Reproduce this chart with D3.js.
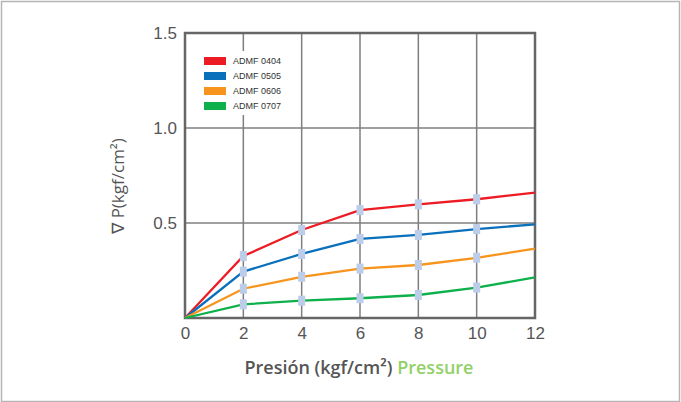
<!DOCTYPE html>
<html lang="en">
<head>
<meta charset="UTF-8">
<title>Pressure drop</title>
<script src="https://d3js.org/d3.v7.min.js"></script>
<style>
  body { margin: 0; background: #fff; }
  svg { display: block; font-family: "Open Sans", Roboto, sans-serif; }
  .tick text { fill: #555; font-size: 17px; }
</style>
</head>
<body>
<svg id="chart"></svg>
<script>
// pressure points (kgf/cm2)
var pressure = [0, 2, 4, 6, 8, 10, 12];
var yTicks = [0.5, 1.0, 1.5];

// pressure drop per model
var admf0404 = [0, 0.326, 0.463, 0.568, 0.598, 0.625, 0.660];
var admf0505 = [0, 0.244, 0.337, 0.416, 0.437, 0.468, 0.493];
var admf0606 = [0, 0.154, 0.217, 0.260, 0.279, 0.317, 0.365];
var admf0707 = [0, 0.072, 0.091, 0.104, 0.121, 0.160, 0.214];

var names = ["ADMF 0404", "ADMF 0505", "ADMF 0606", "ADMF 0707"];
var colors = ["#ed1c24", "#0a70bb", "#f7941d", "#0db04b"];

var W = 681, H = 402;
var margin = {top: 33, right: 146, bottom: 84, left: 185};
var width = W - margin.left - margin.right,
    height = H - margin.top - margin.bottom;

var svg = d3.select("#chart").attr("width", W).attr("height", H);

// outer frame
svg.append("rect")
  .attr("x", 1.5).attr("y", 1.5)
  .attr("width", W - 3).attr("height", H - 2)
  .attr("fill", "none").attr("stroke", "#b5b5b5").attr("stroke-width", 1.5);

var g = svg.append("g").attr("transform", `translate(${margin.left},${margin.top})`);

var x = d3.scaleLinear().domain([0, 12]).range([0, width]);
var y = d3.scaleLinear().domain([0, 1.5]).range([height, 0]);

// grid
g.append("g")
  .selectAll("line.vg")
  .data([2, 4, 6, 8, 10])
  .enter().append("line")
    .attr("x1", d => x(d)).attr("x2", d => x(d))
    .attr("y1", 0).attr("y2", height)
    .attr("stroke", "#7f7f7f").attr("stroke-width", 1.5);

g.append("g")
  .selectAll("line.hg")
  .data([0.5, 1.0])
  .enter().append("line")
    .attr("x1", 0).attr("x2", width)
    .attr("y1", d => y(d)).attr("y2", d => y(d))
    .attr("stroke", "#7f7f7f").attr("stroke-width", 1.5);

// legend box covers the grid
var legend = g.append("g").attr("transform", "translate(10,18)");
legend.append("rect")
  .attr("width", 105).attr("height", 64)
  .attr("fill", "#fff");

// frame of plot
g.append("rect")
  .attr("width", width).attr("height", height)
  .attr("fill", "none").attr("stroke", "#666").attr("stroke-width", 2.5);

// axes
var xAxis = g.append("g")
  .attr("transform", `translate(0,${height})`)
  .call(d3.axisBottom(x).tickValues(pressure).tickSize(0).tickPadding(9));
xAxis.select(".domain").remove();

var yAxis = g.append("g")
  .call(d3.axisLeft(y).tickValues(yTicks).tickSize(0).tickPadding(8).tickFormat(d3.format(".1f")));
yAxis.select(".domain").remove();
yAxis.selectAll(".tick text").attr("dy", "0.3em");

// lines
var series = [admf0404, admf0505, admf0606, admf0707];
var line = d3.line()
  .x((d, i) => x(pressure[i]))
  .y(d => y(d));

series.forEach(function(s, k) {
  g.append("path")
    .datum(s)
    .attr("fill", "none")
    .attr("stroke", colors[k])
    .attr("stroke-width", 2.3)
    .attr("d", line);
});

// markers at measured points
series.forEach(function(s, k) {
  g.selectAll(".m" + k)
    .data(s.slice(1, 6))
    .enter().append("rect")
      .attr("x", (d, i) => x(pressure[i + 1]) - 3.5)
      .attr("y", d => y(d) - 5)
      .attr("width", 7).attr("height", 10)
      .attr("fill", "#bccde9");
});

// legend entries
names.forEach(function(n, k) {
  var row = legend.append("g").attr("transform", `translate(9,${10 + k * 15})`);
  row.append("rect")
    .attr("width", 22).attr("height", 8).attr("y", -4)
    .attr("fill", colors[k]);
  row.append("text")
    .attr("x", 29).attr("dy", "0.35em")
    .attr("font-family", "'Liberation Sans', Arial, sans-serif")
    .attr("font-size", 9).attr("fill", "#333")
    .text(n);
});

// axis titles
svg.append("text")
  .attr("transform", "translate(124,186) rotate(-90)")
  .attr("text-anchor", "middle")
  .attr("font-size", 17).attr("fill", "#555")
  .text("∇ P(kgf/cm²)");

var xt = svg.append("text")
  .attr("x", 359).attr("y", 374)
  .attr("text-anchor", "middle")
  .attr("font-size", 18).attr("font-weight", 600);
xt.append("tspan").attr("fill", "#555").text("Presión (kgf/cm²) ");
xt.append("tspan").attr("fill", "#93d067").text("Pressure");
</script>
</body>
</html>
